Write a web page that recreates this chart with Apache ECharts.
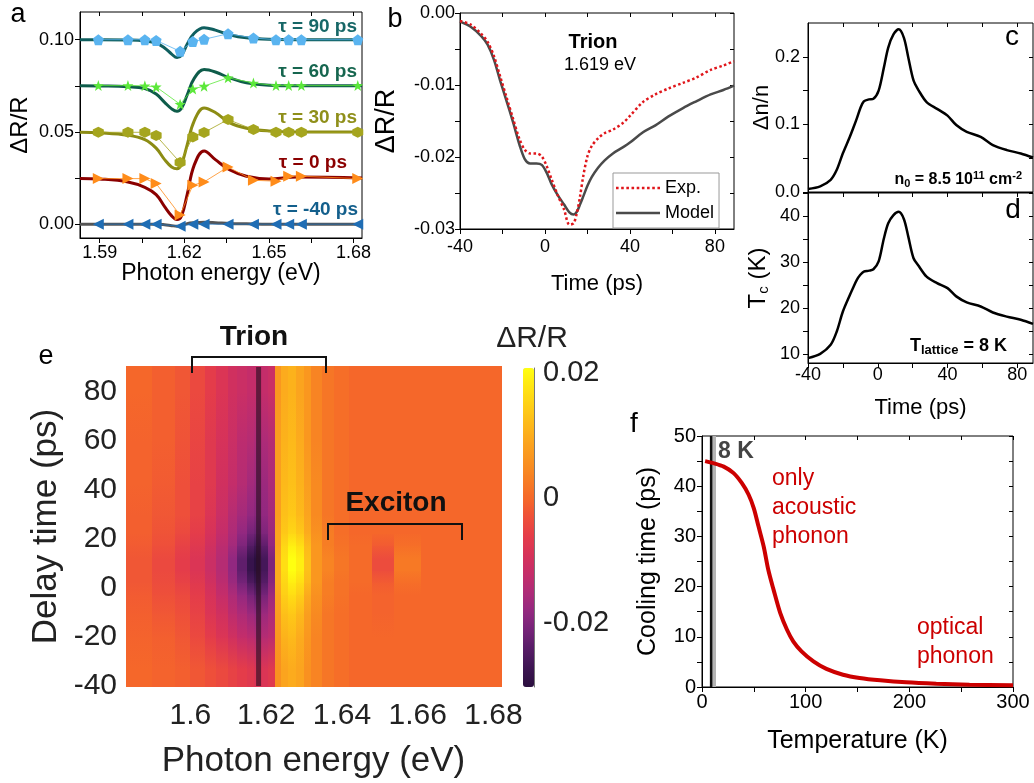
<!DOCTYPE html>
<html>
<head>
<meta charset="utf-8">
<title>Trion cooling dynamics</title>
<script src="https://cdn.jsdelivr.net/npm/echarts@6.0.0/dist/echarts.min.js"></script>
<style>
html, body { margin: 0; padding: 0; background: #fff; }
#chart { width: 1034px; height: 783px; }
</style>
</head>
<body>
<div id="chart"></div>
<script>
const FONT = '"Liberation Sans", Arial, sans-serif'

// ---- panel a: spectra at several delays (offset by 0.025)
const aFitE = [1.583, 1.59, 1.60, 1.606, 1.610, 1.613, 1.6155, 1.6174, 1.619, 1.621, 1.6235, 1.627, 1.631, 1.636, 1.642, 1.65, 1.66, 1.683]
const aFit90 = [0.1, 0.1, 0.0998, 0.0993, 0.0982, 0.0955, 0.0922, 0.0903, 0.0915, 0.0975, 0.1035, 0.1065, 0.1052, 0.1027, 0.1010, 0.1002, 0.1, 0.1]
const aFit60 = [0.075, 0.0749, 0.0745, 0.0735, 0.0705, 0.0660, 0.0625, 0.0612, 0.0628, 0.0700, 0.0790, 0.0838, 0.0825, 0.0793, 0.0766, 0.0753, 0.075, 0.075]
const aFit30 = [0.0498, 0.0495, 0.0482, 0.0458, 0.0412, 0.0350, 0.0310, 0.0300, 0.0325, 0.0430, 0.0560, 0.0630, 0.0605, 0.0550, 0.0520, 0.0505, 0.050, 0.050]
const aFit0 = [0.0248, 0.0245, 0.0229, 0.0200, 0.0160, 0.0095, 0.0045, 0.0025, 0.0045, 0.0160, 0.0320, 0.0397, 0.0350, 0.0295, 0.0260, 0.0245, 0.0255, 0.025]
const aFitM40 = [0, 0, 0, 0, 0, -0.0003, -0.0008, -0.0011, -0.0008, 0.0003, 0.0008, 0.0010, 0.0008, 0.0004, 0.0002, 0, 0, 0]

const aDotE = [1.5895, 1.600, 1.606, 1.610, 1.6185, 1.623, 1.627, 1.6355, 1.6445, 1.6525, 1.657, 1.6615, 1.6815]
const aDot90 = [0.100, 0.100, 0.100, 0.0996, 0.0937, 0.0990, 0.1002, 0.1032, 0.1009, 0.100, 0.100, 0.100, 0.100]
const aDot60 = [0.0751, 0.0751, 0.0750, 0.0744, 0.0650, 0.0733, 0.0748, 0.0794, 0.0765, 0.0751, 0.0751, 0.0751, 0.0751]
const aDot30 = [0.0498, 0.0498, 0.0498, 0.0480, 0.0334, 0.0473, 0.0497, 0.0567, 0.0513, 0.0498, 0.0498, 0.0498, 0.0498]
const aDot0 = [0.0247, 0.0247, 0.0247, 0.0220, 0.0049, 0.0211, 0.0229, 0.0310, 0.0238, 0.0233, 0.0260, 0.0260, 0.0247]
const aDotM40 = [0, 0, 0, 0, -0.0011, 0, 0, 0, 0, 0, 0, 0, 0]

const aXLabels = [1.59, 1.62, 1.65, 1.68]
const aXTicks = [1.59, 1.605, 1.62, 1.635, 1.65, 1.665, 1.68]
const aYLabels = [0, 0.05, 0.10]
const aYTicks = [0, 0.025, 0.05, 0.075, 0.10]

// ---- panel b: trion transient at 1.619 eV
const bTime = [-40, -35, -30, -27, -24, -21, -18, -15, -12, -9.5, -7, -4, -1.5, 1, 3, 6, 9, 11.5, 13.5, 15, 16.5, 18, 20, 22, 25, 28, 32, 37, 40, 46, 52, 58, 65, 71, 78, 84, 89]
const bModel = [-0.0012, -0.0019, -0.0032, -0.0044, -0.0065, -0.0095, -0.0123, -0.0152, -0.0183, -0.0203, -0.0209, -0.0209, -0.0211, -0.0223, -0.0237, -0.0253, -0.0266, -0.0277, -0.0280, -0.0276, -0.0266, -0.0255, -0.0240, -0.0228, -0.0215, -0.0205, -0.0195, -0.0186, -0.0180, -0.0166, -0.0156, -0.0144, -0.0132, -0.0123, -0.0113, -0.0107, -0.0101]
const bExp = [-0.0011, -0.0016, -0.0029, -0.0040, -0.0060, -0.0089, -0.0118, -0.0147, -0.0175, -0.0190, -0.0195, -0.0195, -0.0199, -0.0214, -0.0230, -0.0253, -0.0273, -0.0294, -0.0292, -0.0278, -0.0255, -0.0227, -0.0199, -0.0185, -0.0174, -0.0167, -0.0162, -0.0152, -0.0143, -0.0124, -0.0113, -0.0105, -0.0097, -0.0090, -0.0079, -0.0073, -0.0067]
const bXLabels = [-40, 0, 40, 80]
const bXTicks = [-40, -20, 0, 20, 40, 60, 80]
const bYLabels = [-0.03, -0.02, -0.01, 0]
const bYTicks = [-0.03, -0.025, -0.02, -0.015, -0.01, -0.005, 0]

// ---- panels c, d: density change and carrier temperature
const cdTime = [-40, -33, -27, -23.5, -20, -16, -14, -12, -10, -8, -5, -2.5, 0.5, 3.5, 6, 9, 12, 15, 17.5, 20.5, 23.5, 28, 34, 40, 45, 51, 59, 66, 74, 82, 89]
const cDens = [0.0044, 0.0083, 0.018, 0.0328, 0.0572, 0.0817, 0.095, 0.109, 0.124, 0.134, 0.137, 0.138, 0.150, 0.184, 0.2137, 0.233, 0.2406, 0.228, 0.199, 0.165, 0.150, 0.133, 0.123, 0.113, 0.099, 0.089, 0.0817, 0.0694, 0.062, 0.057, 0.051]
const dTemp = [9.06, 10.0, 11.96, 14.86, 19.2, 22.8, 24.5, 26.1, 27.2, 27.9, 28.1, 28.4, 30.1, 35.1, 38.4, 40.2, 40.9, 39.3, 35.5, 30.8, 29.1, 26.8, 25.4, 24.3, 22.5, 21.2, 20.3, 19.0, 18.1, 17.4, 16.5]
const cYLabels = [0, 0.1, 0.2]
const cYTicks = [0, 0.05, 0.1, 0.15, 0.2]
const dYLabels = [10, 20, 30, 40]
const dYTicks = [10, 15, 20, 25, 30, 35, 40, 45]

// ---- panel e: map of dR/R (cells between edges, rows from -40 ps upward)
const hmEnergyEdges = [1.583, 1.590, 1.596, 1.600, 1.604, 1.607, 1.610, 1.6125, 1.615, 1.617, 1.6185, 1.6205, 1.6225, 1.624, 1.626, 1.628, 1.630, 1.632, 1.635, 1.638, 1.642, 1.648, 1.654, 1.661, 1.682]
const hmTimeEdges = [-40, -25, -15, -5, 0, 5, 10, 15, 20, 25, 35, 50, 70, 90]
const hmValues = [
    [0, -0.0005, -0.001, -0.002, -0.003, -0.004, -0.005, -0.006, -0.007, -0.008, -0.008, -0.007, 0.006, 0.009, 0.010, 0.009, 0.006, 0.004, 0.002, 0.001, 0, 0, 0, 0],
    [-0.0005, -0.001, -0.002, -0.004, -0.006, -0.008, -0.010, -0.012, -0.013, -0.014, -0.014, -0.013, 0.007, 0.011, 0.012, 0.010, 0.007, 0.004, 0.002, 0.001, 0, 0, 0, 0],
    [-0.001, -0.002, -0.003, -0.005, -0.008, -0.010, -0.013, -0.015, -0.017, -0.018, -0.017, -0.015, 0.008, 0.013, 0.014, 0.012, 0.008, 0.005, 0.002, 0.001, 0, -0.0005, 0, 0],
    [-0.0015, -0.003, -0.004, -0.006, -0.009, -0.012, -0.015, -0.018, -0.021, -0.023, -0.021, -0.017, 0.009, 0.015, 0.017, 0.015, 0.010, 0.006, 0.003, 0.0015, 0, -0.0005, 0, 0],
    [-0.002, -0.0035, -0.005, -0.007, -0.010, -0.013, -0.017, -0.021, -0.025, -0.027, -0.024, -0.019, 0.010, 0.016, 0.019, 0.017, 0.012, 0.007, 0.003, 0.0015, 0.0005, -0.0015, 0.001, 0],
    [-0.002, -0.004, -0.006, -0.008, -0.011, -0.014, -0.018, -0.023, -0.028, -0.030, -0.026, -0.020, 0.010, 0.017, 0.021, 0.019, 0.013, 0.007, 0.004, 0.002, 0.0005, -0.0035, 0.0025, 0],
    [-0.002, -0.004, -0.006, -0.008, -0.011, -0.014, -0.018, -0.023, -0.028, -0.030, -0.026, -0.020, 0.010, 0.017, 0.021, 0.019, 0.013, 0.007, 0.004, 0.002, 0.0005, -0.0035, 0.0025, 0],
    [-0.0015, -0.003, -0.005, -0.007, -0.010, -0.013, -0.016, -0.020, -0.024, -0.026, -0.023, -0.018, 0.009, 0.016, 0.019, 0.017, 0.012, 0.007, 0.003, 0.0015, 0.0005, -0.0015, 0.001, 0],
    [-0.001, -0.0025, -0.004, -0.006, -0.009, -0.012, -0.015, -0.018, -0.021, -0.022, -0.020, -0.017, 0.009, 0.014, 0.016, 0.014, 0.010, 0.006, 0.003, 0.001, 0, 0, 0, 0],
    [-0.001, -0.002, -0.003, -0.005, -0.008, -0.011, -0.014, -0.016, -0.018, -0.019, -0.018, -0.016, 0.008, 0.013, 0.014, 0.012, 0.009, 0.005, 0.002, 0.001, 0, 0, 0, 0],
    [-0.0005, -0.0015, -0.003, -0.005, -0.007, -0.010, -0.012, -0.014, -0.016, -0.017, -0.017, -0.015, 0.008, 0.012, 0.013, 0.011, 0.008, 0.005, 0.002, 0.001, 0, 0, 0, 0],
    [-0.0005, -0.001, -0.0025, -0.0045, -0.007, -0.009, -0.011, -0.013, -0.014, -0.015, -0.015, -0.014, 0.008, 0.011, 0.012, 0.010, 0.007, 0.004, 0.002, 0.001, 0, 0, 0, 0],
    [0, -0.001, -0.002, -0.004, -0.006, -0.008, -0.010, -0.011, -0.012, -0.012, -0.012, -0.011, 0.007, 0.010, 0.011, 0.009, 0.007, 0.004, 0.002, 0.001, 0, 0, 0, 0]
]
const hmTrionE = 1.618
const eXLabels = [1.6, 1.62, 1.64, 1.66, 1.68]
const eYLabels = [-40, -20, 0, 20, 40, 60, 80]
const cbLabels = [-0.02, 0, 0.02]

// ---- panel f: cooling time vs lattice temperature
const fTemp = [3, 11, 21, 30.5, 38.5, 45, 50, 54.5, 59.5, 64, 69, 75.5, 82, 88, 96, 107.5, 120, 136, 152, 172, 197, 226, 258, 300]
const fCool = [45.0, 44.6, 43.9, 42.6, 40.6, 38.3, 35.6, 32.0, 28.0, 23.3, 19.4, 14.7, 11.4, 9.1, 7.1, 5.1, 3.6, 2.45, 1.8, 1.33, 0.93, 0.66, 0.46, 0.33]
const fLatticeT = 8.8
const fBand = [8, 13.5]
const fXLabels = [0, 100, 200, 300]
const fXTicks = [0, 50, 100, 150, 200, 250, 300]
const fYLabels = [0, 10, 20, 30, 40, 50]
const fYTicks = [0, 5, 10, 15, 20, 25, 30, 35, 40, 45, 50]

// colour scale of the map (shared by visualMap and the cell painter)
const HM_MIN = -0.03
const HM_MAX = 0.021
const HM_COLORS = ['#2b0f3f', '#3d1552', '#561c66', '#742378', '#922880', '#ad2b78', '#c42d6a', '#d6325a', '#e43c4a',
    '#ee4f3a', '#f5672a', '#f77d24', '#f99120', '#fba41e', '#fdb91a', '#fecf16', '#ffe512', '#ffff10']

const PENTAGON = 'path://M0,-10 L9.51,-3.09 L5.88,8.09 L-5.88,8.09 L-9.51,-3.09 Z'
const STAR = 'path://M0,-10 L2.35,-3.24 L9.51,-3.09 L3.8,1.24 L5.88,8.09 L0,4 L-5.88,8.09 L-3.8,1.24 L-9.51,-3.09 L-2.35,-3.24 Z'
const HEXAGON = 'path://M8.66,-5 L8.66,5 L0,10 L-8.66,5 L-8.66,-5 L0,-10 Z'
const DOTS_ICON = 'path://M0,0h2.5v2.5h-2.5z M5,0h2.5v2.5h-2.5z M10,0h2.5v2.5h-2.5z M15,0h2.5v2.5h-2.5z M20,0h2.5v2.5h-2.5z M25,0h2.5v2.5h-2.5z M30,0h2.5v2.5h-2.5z M35,0h2.5v2.5h-2.5z M40,0h2.5v2.5h-2.5z'
const BAR_ICON = 'path://M0,0h42.5v2.5h-42.5z'

function pairs(xs, ys) {
    return xs.map((x, i) => [x, ys[i]])
}

function mapColor(v) {
    const t = Math.min(1, Math.max(0, (v - HM_MIN) / (HM_MAX - HM_MIN)))
    return echarts.color.lerp(t, HM_COLORS)
}

function gridBox(left, top, width, height, border) {
    return { left, top, width, height, show: border, borderColor: '#000', borderWidth: 1, outerBoundsMode: 'none', containLabel: false }
}

// framed Origin-like axis
function frameAxis(gridIndex, min, max, labels, ticks, fmt, opts) {
    const o = opts || {}
    return Object.assign({
        type: 'value', gridIndex, min, max,
        splitLine: { show: false },
        axisLine: { show: true, onZero: false, lineStyle: { color: '#000', width: 1 } },
        axisTick: { show: true, customValues: ticks, length: 5, lineStyle: { color: '#000' } },
        axisLabel: {
            show: o.noLabel ? false : true, customValues: labels, formatter: fmt,
            fontSize: o.fontSize || 18, fontFamily: FONT, color: '#000', margin: o.margin == null ? 6 : o.margin
        },
        nameLocation: 'middle', nameMoveOverlap: false,
        nameTextStyle: { fontSize: o.nameSize || 22, fontFamily: FONT, color: '#000' }
    }, o.extra || {})
}

// top / right frame edge with inward ticks only
function mirrorAxis(gridIndex, min, max, ticks, position) {
    return {
        type: 'value', gridIndex, min, max, position,
        splitLine: { show: false }, axisLabel: { show: false },
        axisLine: { show: false, onZero: false },
        axisTick: { show: true, inside: true, customValues: ticks, length: 4, lineStyle: { color: '#000' } }
    }
}

const series = []

// panel a
const aSets = [
    { fit: aFit90, dot: aDot90, line: '#0f5f5f', mark: '#5ab4f0', sym: PENTAGON, rot: 0 },
    { fit: aFit60, dot: aDot60, line: '#0e5c4a', mark: '#5ce83a', sym: STAR, rot: 0 },
    { fit: aFit30, dot: aDot30, line: '#8c8c14', mark: '#a5a51e', sym: HEXAGON, rot: 0 },
    { fit: aFit0, dot: aDot0, line: '#8b0000', mark: '#ff8c1a', sym: 'triangle', rot: -90 },
    { fit: aFitM40, dot: aDotM40, line: '#555555', mark: '#1f6db4', sym: 'triangle', rot: 90 }
]
aSets.forEach(s => {
    series.push({
        type: 'line', xAxisIndex: 0, yAxisIndex: 0, data: pairs(aFitE, s.fit),
        smooth: 0.4, symbol: 'none', silent: true, z: 2,
        lineStyle: { color: s.line, width: 3 }
    })
})
aSets.forEach(s => {
    series.push({
        type: 'line', xAxisIndex: 0, yAxisIndex: 0, data: pairs(aDotE, s.dot),
        symbol: s.sym, symbolSize: 11, symbolRotate: s.rot, showSymbol: true, silent: true, z: 3,
        lineStyle: { color: s.mark, width: 0.8 }, itemStyle: { color: s.mark }
    })
})

// panel b
series.push({
    name: 'Model', type: 'line', xAxisIndex: 1, yAxisIndex: 1, data: pairs(bTime, bModel),
    smooth: 0.3, symbol: 'none', silent: true, itemStyle: { color: '#4a4a4a' },
    lineStyle: { color: '#4a4a4a', width: 2.5 }
})
series.push({
    name: 'Exp.', type: 'line', xAxisIndex: 1, yAxisIndex: 1, data: pairs(bTime, bExp),
    smooth: 0.3, symbol: 'none', silent: true, z: 3, itemStyle: { color: '#e0161b' },
    lineStyle: { color: '#e0161b', width: 2.5, type: [2.5, 2.5] }
})

// panels c, d
series.push({
    type: 'line', xAxisIndex: 2, yAxisIndex: 2, data: pairs(cdTime, cDens),
    smooth: 0.3, symbol: 'none', silent: true, lineStyle: { color: '#000', width: 2.5 }
})
series.push({
    type: 'line', xAxisIndex: 3, yAxisIndex: 3, data: pairs(cdTime, dTemp),
    smooth: 0.3, symbol: 'none', silent: true, lineStyle: { color: '#000', width: 2.5 }
})

// panel e map cells; each cell is shaded up to the centre of the next row
const nCols = hmEnergyEdges.length - 1
const nRows = hmTimeEdges.length - 1
const hmCells = []
hmValues.forEach((row, r) => {
    row.forEach((v, c) => {
        hmCells.push([hmEnergyEdges[c], hmEnergyEdges[c + 1], hmTimeEdges[r], hmTimeEdges[r + 1], v])
    })
})
const hmSeriesIndex = series.length
series.push({
    type: 'custom', xAxisIndex: 4, yAxisIndex: 4, data: hmCells, silent: true, z: 1,
    encode: { x: [0, 1], y: [2, 3] },
    renderItem: function (params, api) {
        const r = Math.floor(params.dataIndex / nCols)
        const c = params.dataIndex % nCols
        const e0 = api.value(0), e1 = api.value(1), t0 = api.value(2), t1 = api.value(3)
        const tc = (t0 + t1) / 2
        const own = mapColor(hmValues[r][c])
        const kids = []
        const box = (ta, tb, fill) => {
            const pA = api.coord([e0, tb])
            const pB = api.coord([e1, ta])
            const x = Math.floor(pA[0]), y = Math.floor(pA[1])
            kids.push({
                type: 'rect',
                shape: { x, y, width: Math.ceil(pB[0]) - x + 1, height: Math.ceil(pB[1]) - y + 1 },
                style: { fill }
            })
        }
        if (r === 0) box(t0, tc, own)
        if (r === nRows - 1) {
            box(tc, t1, own)
        } else {
            const tn = (hmTimeEdges[r + 1] + hmTimeEdges[r + 2]) / 2
            const next = mapColor(hmValues[r + 1][c])
            box(tc, tn, {
                type: 'linear', x: 0, y: 0, x2: 0, y2: 1,
                colorStops: [{ offset: 0, color: next }, { offset: 1, color: own }]
            })
        }
        return { type: 'group', children: kids }
    }
})
series.push({
    type: 'line', xAxisIndex: 4, yAxisIndex: 4, data: [[hmTrionE, -40], [hmTrionE, 90]],
    symbol: 'none', silent: true, z: 3, lineStyle: { color: 'rgba(45,15,35,0.65)', width: 5 }
})

// panel f
series.push({
    type: 'line', xAxisIndex: 6, yAxisIndex: 6, data: [[fLatticeT, 0], [fLatticeT, 50]],
    symbol: 'none', silent: true, z: 2, lineStyle: { color: '#111', width: 2.5 },
    markArea: { silent: true, itemStyle: { color: '#b4b4b4' }, data: [[{ xAxis: fBand[0] }, { xAxis: fBand[1] }]] }
})
series.push({
    type: 'line', xAxisIndex: 6, yAxisIndex: 6, data: pairs(fTemp, fCool),
    smooth: 0.3, symbol: 'none', silent: true, z: 4, lineStyle: { color: '#cc0000', width: 4 }
})

function txt(text, x, y, size, extra) {
    return {
        type: 'text', x, y, silent: true, z: 50,
        style: Object.assign({ text, fontSize: size, fontFamily: FONT, fill: '#000', align: 'center', verticalAlign: 'middle' }, extra || {})
    }
}
const bold = { fontWeight: 'bold' }

const graphics = [
    txt('a', 18, 15, 27), txt('b', 395, 20, 27), txt('c', 1012, 37, 28), txt('d', 1013, 210, 28),
    txt('e', 46, 357, 27), txt('f', 634, 424, 28),
    txt('τ = 90 ps', 357, 27, 19, { align: 'right', fontWeight: 'bold', fill: '#176767' }),
    txt('τ = 60 ps', 357, 72, 19, { align: 'right', fontWeight: 'bold', fill: '#16664f' }),
    txt('τ = 30 ps', 357, 118, 19, { align: 'right', fontWeight: 'bold', fill: '#8f8f1a' }),
    txt('τ = 0 ps', 347, 163, 19, { align: 'right', fontWeight: 'bold', fill: '#8b0000' }),
    txt('τ = -40 ps', 358, 210, 19, { align: 'right', fontWeight: 'bold', fill: '#135f8c' }),
    txt('Trion', 593, 42, 20, bold),
    txt('1.619 eV', 600, 65, 18),
    {
        type: 'text', x: 1022, y: 180, silent: true, z: 50,
        style: {
            text: '{b|n}{s|0}{b| = 8.5 10}{p|11}{b| cm}{p|-2}', align: 'right', verticalAlign: 'middle',
            rich: {
                b: { fontSize: 16, fontWeight: 'bold', fontFamily: FONT, fill: '#000' },
                s: { fontSize: 11, fontWeight: 'bold', fontFamily: FONT, fill: '#000', verticalAlign: 'bottom', padding: [8, 0, 0, 0] },
                p: { fontSize: 11, fontWeight: 'bold', fontFamily: FONT, fill: '#000', verticalAlign: 'top', padding: [0, 0, 8, 0] }
            }
        }
    },
    {
        type: 'text', x: 1007, y: 346, silent: true, z: 50,
        style: {
            text: '{b|T}{s|lattice}{b| = 8 K}', align: 'right', verticalAlign: 'middle',
            rich: {
                b: { fontSize: 18, fontWeight: 'bold', fontFamily: FONT, fill: '#000' },
                s: { fontSize: 13, fontWeight: 'bold', fontFamily: FONT, fill: '#000', verticalAlign: 'bottom', padding: [9, 0, 0, 0] }
            }
        }
    },
    txt('Trion', 254, 337, 28, { fontWeight: 'bold', fill: '#111' }),
    txt('Exciton', 396, 503, 28, { fontWeight: 'bold', fill: '#111' }),
    txt('ΔR/R', 532, 339, 30, { fill: '#222' }),
    {
        type: 'polyline', silent: true, z: 50,
        shape: { points: [[192, 373], [192, 357], [326, 357], [326, 373]] },
        style: { stroke: '#111', lineWidth: 2, fill: null }
    },
    {
        type: 'polyline', silent: true, z: 50,
        shape: { points: [[328, 540], [328, 524], [462, 524], [462, 540]] },
        style: { stroke: '#111', lineWidth: 2, fill: null }
    },
    txt('8 K', 718, 452, 23, { align: 'left', fontWeight: 'bold', fill: '#444' }),
    txt('only\nacoustic\nphonon', 772, 508, 23, { align: 'left', fill: '#cc0000', lineHeight: 29 }),
    txt('optical\nphonon', 917, 642, 23, { align: 'left', fill: '#cc0000', lineHeight: 29 })
]

const option = {
    backgroundColor: '#fff',
    animation: false,
    textStyle: { fontFamily: FONT },
    grid: [
        gridBox(80, 12, 282, 226, true),
        gridBox(460, 13, 274, 216, true),
        gridBox(808, 23, 225, 169, true),
        gridBox(808, 193, 225, 170, true),
        gridBox(126, 367, 375, 319, false),
        gridBox(523, 368, 11, 319, false),
        gridBox(702, 436, 311, 251, true)
    ],
    xAxis: [
        frameAxis(0, 1.583, 1.683, aXLabels, aXTicks, v => v.toFixed(2), {
            extra: { name: 'Photon energy (eV)', nameGap: 24 }, nameSize: 23
        }),
        frameAxis(1, -40, 89, bXLabels, bXTicks, v => String(v), {
            margin: 9, extra: { name: 'Time (ps)', nameGap: 44 }, nameSize: 22
        }),
        frameAxis(2, -40, 89, bXLabels, bXTicks, v => String(v), { noLabel: true }),
        frameAxis(3, -40, 89, bXLabels, bXTicks, v => String(v), {
            margin: 3, extra: { name: 'Time (ps)', nameGap: 34 }, nameSize: 22
        }),
        {
            type: 'value', gridIndex: 4, min: 1.583, max: 1.682,
            splitLine: { show: false }, axisLine: { show: false }, axisTick: { show: false },
            axisLabel: { customValues: eXLabels, formatter: v => String(Number(v.toFixed(2))), fontSize: 30, fontFamily: FONT, color: '#222', margin: 15 },
            name: 'Photon energy (eV)', nameLocation: 'middle', nameGap: 58, nameMoveOverlap: false,
            nameTextStyle: { fontSize: 35, fontFamily: FONT, color: '#222' }
        },
        { type: 'value', gridIndex: 5, min: 0, max: 1, show: false },
        frameAxis(6, 0, 300, fXLabels, fXTicks, v => String(v), {
            fontSize: 20, margin: 5, extra: { name: 'Temperature (K)', nameGap: 42 }, nameSize: 25
        }),
        mirrorAxis(0, 1.583, 1.683, aXTicks, 'top'),
        mirrorAxis(1, -40, 89, bXTicks, 'top'),
        mirrorAxis(2, -40, 89, bXTicks, 'top'),
        mirrorAxis(3, -40, 89, bXTicks, 'top'),
        mirrorAxis(6, 0, 300, fXTicks, 'top')
    ],
    yAxis: [
        frameAxis(0, -0.0075, 0.115, aYLabels, aYTicks, v => v.toFixed(2), {
            extra: { name: 'ΔR/R', nameGap: 48 }, nameSize: 24
        }),
        frameAxis(1, -0.03, 0, bYLabels, bYTicks, v => v.toFixed(2), {
            margin: 5, extra: { name: 'ΔR/R', nameGap: 60 }, nameSize: 27
        }),
        frameAxis(2, 0, 0.25, cYLabels, cYTicks, v => v.toFixed(1), {
            margin: 8, extra: { name: 'Δn/n', nameGap: 35 }, nameSize: 22
        }),
        frameAxis(3, 8, 45, dYLabels, dYTicks, v => String(v), {
            margin: 8, nameSize: 22,
            extra: {
                name: 'T{s|c} (K)', nameGap: 37,
                nameTextStyle: {
                    fontSize: 24, fontFamily: FONT, color: '#000',
                    rich: { s: { fontSize: 15, fontFamily: FONT, color: '#000', verticalAlign: 'bottom', padding: [10, 0, 0, 0] } }
                }
            }
        }),
        {
            type: 'value', gridIndex: 4, min: -40, max: 90,
            splitLine: { show: false }, axisLine: { show: false }, axisTick: { show: false },
            axisLabel: { customValues: eYLabels, formatter: v => String(v), fontSize: 30, fontFamily: FONT, color: '#222', margin: 9 },
            name: 'Delay time (ps)', nameLocation: 'middle', nameGap: 62, nameMoveOverlap: false,
            nameTextStyle: { fontSize: 35, fontFamily: FONT, color: '#222' }
        },
        {
            type: 'value', gridIndex: 5, min: -0.0302, max: 0.0208, position: 'right',
            splitLine: { show: false },
            axisLine: { show: true, onZero: false, lineStyle: { color: '#777', width: 1 } },
            axisTick: { show: true, inside: true, length: 4, customValues: cbLabels, lineStyle: { color: '#555' } },
            axisLabel: { customValues: cbLabels, formatter: v => (v === 0 ? '0' : v.toFixed(2)), fontSize: 29, fontFamily: FONT, color: '#222', margin: 9 }
        },
        frameAxis(6, 0, 50, fYLabels, fYTicks, v => String(v), {
            fontSize: 20, margin: 6, extra: { name: 'Cooling time (ps)', nameGap: 41 }, nameSize: 25
        }),
        mirrorAxis(0, -0.0075, 0.115, aYTicks, 'right'),
        mirrorAxis(1, -0.03, 0, bYTicks, 'right'),
        mirrorAxis(2, 0, 0.25, cYTicks, 'right'),
        mirrorAxis(3, 8, 45, dYTicks, 'right'),
        mirrorAxis(6, 0, 50, fYTicks, 'right')
    ],
    visualMap: {
        type: 'continuous', seriesIndex: hmSeriesIndex, dimension: 4,
        min: HM_MIN, max: HM_MAX, calculable: false, realtime: false,
        orient: 'vertical', left: 523, top: 368, itemWidth: 11, itemHeight: 319, padding: 0,
        inRange: { color: HM_COLORS }
    },
    legend: {
        data: [{ name: 'Exp.', icon: DOTS_ICON }, { name: 'Model', icon: BAR_ICON }],
        left: 613, top: 173, orient: 'vertical', selectedMode: false,
        itemWidth: 44, itemHeight: 3, itemGap: 7, padding: [6, 5, 6, 3],
        itemStyle: { borderWidth: 0 },
        borderColor: '#999', borderWidth: 1, borderRadius: 0, backgroundColor: '#fff',
        textStyle: { fontSize: 18, fontFamily: FONT, color: '#000' }
    },
    graphic: { elements: graphics },
    series
}

const chart = echarts.init(document.getElementById('chart'), null, { renderer: 'canvas' })
chart.setOption(option)
</script>
</body>
</html>
